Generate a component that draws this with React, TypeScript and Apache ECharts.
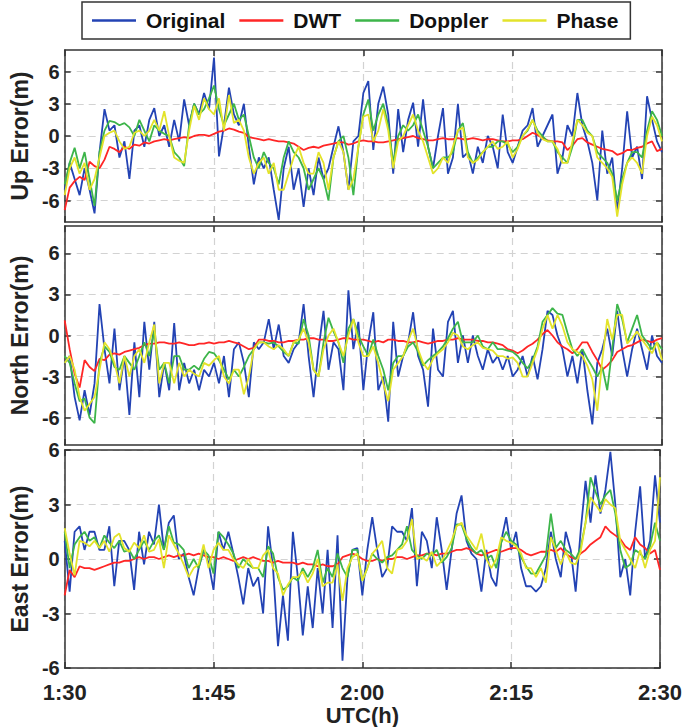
import React, { useEffect, useRef } from "react";
import * as echarts from "echarts";

// time axis: minutes after 1:30 UTC, sampled every half minute
const T_START = 0;
const T_STEP = 0.5;
const N_POINTS = 121;
const X_TICK_LABELS = ["1:30", "1:45", "2:00", "2:15", "2:30"];
const Y_TICKS = [-6, -3, 0, 3, 6];

const SERIES_NAMES = ["Original", "DWT", "Doppler", "Phase"];
const SERIES_COLORS = ["#2343B4", "#FF2626", "#3DB54A", "#E3E32B"];
const PANEL_NAMES = ["Up Error(m)", "North Error(m)", "East Error(m)"];

// ---- Up ----
const UP_ORIGINAL = [
  -5, -2.5, -4, -5.5, -3, -5, -7.2, -1.5, 2.5, 0.5, 1, -2, -0.5, -4, 0.5, 1, -1, 1.5, 2.6, 0,
  1, -1, 1.5, -0.5, 3.4, 1, 3, 2, 4, 2.5, 7.3, -1.9, 1, 4.5, 2, 1, 3, -1, -4.5, -2,
  -3, -2, -5, -7.8, -3, -1, -5, -3, -6.6, -3, -5.5, -2, -4, -3, -1, 0.9, -1.5, -5, -0.5, 0,
  4, 5.1, -1.3, 3, 4.6, 2, -3.5, 2.5, -1.5, 1.5, 3.1, -1, 3.4, -1, -3, 0, 2.6, -3.5, -2, 3,
  -2, -1.5, -3.5, -1, -2.5, 0, -1, -3, 2, -1.5, -2.5, -1, 0.5, 1, 2.6, -1, 0, 1, 2, -3.5,
  -2, 1, 0, 4, 1, -0.5, -2.5, -6, 0.5, -3.5, -2, -7, -3, 2.3, -2, -1, -4, 3.7, 1.5, -0.5, -1.5,
];
const UP_DWT = [
  -6.9, -4.8, -4.2, -3.8, -4.1, -2.4, -2.8, -3.0, -2.2, -1.0, -1.2, -1.5, -1.0, -1.2, -0.8, -0.9, -0.6, -0.7, -0.5, -0.4,
  -0.3, -0.4, -0.3, -0.2, -0.1, -0.2, 0.0, 0.1, 0.1, 0.0, 0.2, 0.4, 0.5, 0.7, 0.6, 0.4, 0.3, -0.1, -0.2, -0.3,
  -0.4, -0.3, -0.4, -0.5, -0.5, -0.6, -0.7, -1.0, -1.3, -1.1, -1.0, -1.1, -0.9, -0.8, -0.7, -0.6, -0.6, -0.8, -0.7, -0.5,
  -0.4, -0.5, -0.5, -0.6, -0.6, -0.5, -0.4, -0.3, -0.2, -0.1, 0.0, -0.2, -0.3, -0.4, -0.4, -0.3, -0.2, -0.3, -0.3, -0.2,
  -0.3, -0.3, -0.2, -0.3, -0.4, -0.3, -0.3, -0.4, -0.5, -0.5, -0.4, -0.4, -0.3, 0.0, 0.3, 0.1, -0.2, -0.4, -0.5, -0.5,
  -0.6, -1.3, -0.9, -0.3, -0.2, -0.6, -0.8, -1.0, -1.2, -1.3, -1.4, -1.75, -1.6, -1.3, -1.3, -1.1, -1.0, -0.7, -0.5, -1.4, -1.2,
];
const UP_DOPPLER = [
  -4.5, -2.5, -1.1, -3, -1.5, -4, -6.5, -1.5, 0.5, 1.4, 1.3, 1.0, 1.2, 0.8, 0, 1.5, 0.5, -0.5, 1, 0.5,
  0.2, 0, -1.5, -2, -2.8, 1, 3, 2, 2.5, 3.5, 4.7, 2.5, 1, 2, 3, 1.5, 2, 0, -2, -3,
  -1.5, -2.5, -3, -4.5, -2, -0.5, -1.5, -2, -3, -5, -4, -3, -4, -6, -2, -0.5, 0, -2, -5.5, -1,
  2, 3.4, 0.5, 2, 3, 1, -2.5, 0, 1, 0.5, 1, 2, 0.5, -1, -3, -2.5, -2, -2, -1.5, 0.5,
  1.2, -1.5, -2.5, -2, -1.5, -1, -1, -0.5, -0.5, -0.8, -1.5, -1, 0, 0.5, 1.5, 0.5, 0, -0.5, -0.5, -1.5,
  -2, -2.5, -1, 1.5, 1.5, 0.5, 0, -1.5, -2, -2.5, -3.5, -6, -4, -2.5, -1.5, -1.5, -2, 0.5, 2.3, 1.5, 0,
];
const UP_PHASE = [
  -5.5, -3, -2, -3.5, -2.5, -5, -4, -2, 0, 0.3, 0.5, -0.5, -1.2, -1, 0.3, 0.5, 0, 0.5, 1.5, 0.5,
  2.3, 0, -2, -2.3, -2.5, 0.5, 2.8, 1.5, 3.5, 2.5, 2, 3.5, 0.5, 3.8, 1.2, 1.5, 0.5, -2, -3.5, -2.5,
  -2, -3.5, -2.5, -5, -5, -3.5, -2, -1, -2.5, -3.5, -3.5, -1.5, -2.5, -5, -2, -0.5, -1.5, -5, -4, -1,
  1.8, 2, -0.5, 0.5, 2.5, 0.5, -3, -0.5, 0, 1, 2, 0.5, -0.5, -2, -3.5, -3, -2, -2.5, -1, 0.5,
  0.8, -2, -2.5, -2.2, -1.5, -1, -0.5, -1.2, -1, -0.5, -2, -1.2, 0, 0.6, 1.5, 0.3, -0.3, -0.5, -0.5, -1.2,
  -2.5, -2.5, -0.5, 1.5, 1, 0.3, 0, -2, -2.5, -3, -3.8, -7.5, -4.5, -2.5, -2, -2.5, -3.5, 0, 1.8, 1, -0.5,
];

// ---- North ----
const NORTH_ORIGINAL = [
  -2, -1.5, -4.5, -6.2, -4, -5.8, -3.5, 2.3, -1, -3.5, 0.5, -4, -1.5, -5.8, -0.5, -4.5, 1, -2.5, 1, -4.5,
  -2, -4, 0.9, -4, -2, -3.5, -2.5, -4, -2.5, -3, -2, -3.5, -1.5, -4.5, -1, -0.5, -2, -4.5, -0.5, -1,
  -0.5, 1.2, -1, 0.8, -1.5, -2, -1, -0.5, 2.3, -1.5, -4.5, -1, 1.8, -2.5, -0.5, -1, -4, 3.3, -1, 1,
  -4, -0.5, 1.7, -4, -3, -6.3, 1, -3, -1.5, -0.5, 1.7, -1.5, -2.5, -5.2, 0.5, -2.5, -3, 1, 1.8, -2,
  0, -2, 0, -1.5, -2.5, -1, -2, -1.5, -2.5, -1.5, -3, -2.5, -1.5, -3, -1.5, -3.2, -1, 1.8, 1.5, 0,
  -1, -3, -1.5, -3.5, -1, -4, -6.5, -2, -1, 0.5, -1.5, 1.8, -1, -3, -1, 0.5, -1, -2.5, 0, -1.5, -2,
];
const NORTH_DWT = [
  1.1, -1.0, -2.8, -3.8, -1.8, -2.3, -2.6, -1.7, -1.8, -1.4, -1.3, -1.4, -1.2, -1.1, -1.0, -0.9, -0.7, -0.6, -0.6, -0.5,
  -0.5, -0.6, -0.6, -0.5, -0.6, -0.7, -0.7, -0.6, -0.6, -0.5, -0.6, -0.5, -0.5, -0.4, -0.5, -0.6, -0.8, -1.0, -0.9, -0.3,
  -0.3, -0.4, -0.4, -0.5, -0.5, -0.4, -0.4, -0.3, -0.3, -0.2, -0.2, -0.3, -0.3, -0.4, -0.4, -0.3, -0.2, -0.2, -0.3, -0.3,
  -0.3, -0.4, -0.5, -0.4, -0.5, -0.3, -0.3, -0.4, -0.4, -0.5, -0.5, -0.4, -0.5, -0.6, -0.5, -0.4, -0.4, -0.3, -0.3, -0.2,
  -0.3, -0.3, -0.3, -0.4, -0.4, -0.5, -0.5, -0.6, -0.7, -1.0, -1.1, -1.3, -1.1, -0.8, -0.6, -0.3, 0.1, 0.4, 0.0, -0.5,
  -0.8, -1.0, -1.3, -1.0, -0.5, -0.5, -1.2, -1.8, -2.5, -2.2, -1.8, -1.2, -1.0, -0.8, -0.7, -0.5, -0.3, -0.4, -0.5, -0.3, -0.2,
];
const NORTH_DOPPLER = [
  -1.5, -2, -3.5, -4.8, -4.6, -6, -6.4, -2, -0.8, -1.2, -2.3, -2.5, -1.5, -2, -2.5, -1.5, -0.5, -1.5, 0.3, -2.5,
  -2, -3.5, -1.5, -1.5, -2.5, -2.5, -2.2, -2.5, -1.7, -1.2, -1.3, -1.8, -2.5, -3.2, -2.5, -3, -2.3, -1.5, -1, -0.5,
  -0.5, -0.6, -0.5, -0.8, -1.2, -1.5, -0.5, -0.6, 1.2, 0, -2.5, -3, -0.5, 1.3, 0.3, -0.5, -2, 0.5, 1.2, 0,
  -0.8, -1.5, -0.3, -1.5, -2.5, -4, -2, -1.5, -1.5, -0.8, -0.5, -1.2, -2.2, -1.8, -1.5, -1.2, -0.8, -0.2, 0.5, 1,
  -0.5, -0.5, -0.5, 0, -0.8, -1, -0.5, -1, -1, -1.1, -1.2, -1.5, -2, -2.4, -1.8, -0.8, 1, 1.5, 2, 1.6,
  1.5, 0.2, -1, -1.5, -1, -1.7, -2.3, -3, -2.3, -4, -1, 2.3, 1.2, -0.5, 0.5, 1.5, 0, -0.5, -1, -0.5, -1,
];
const NORTH_PHASE = [
  -2, -1.5, -2.5, -4.5, -5.5, -5, -4.5, -2.5, -0.5, -1, -2, -3.5, -1.5, -3, -1.5, -1, -2, -0.5, 0.8, -3.5,
  -2, -2, -3.5, -2, -3, -2.5, -2.8, -3, -2, -2.2, -1.8, -1.5, -3, -3.5, -2.5, -2.5, -4.3, -3, -1, -0.5,
  -0.5, -0.8, -1, -0.7, -1, -1.5, -0.5, -0.3, 0.5, -0.5, -2.5, -3, -1, 0, 0.5, -0.5, -1.5, 0, 1.2, -0.5,
  -1.5, -1.5, -0.8, -2, -3.5, -4.8, -2.5, -2, -1.5, -0.4, 0.5, -1, -2, -2.5, -1.7, -1.3, -1, -0.5, 0.2, 0,
  -0.8, -1, -0.7, -0.5, -0.9, -1, -1.1, -1.5, -1.5, -1.7, -1.6, -2, -3, -3, -2, -1, 0.5, 1.5, 0.5, 1.5,
  0.7, -0.5, -1, -1.2, -1.5, -2.2, -3.2, -5.5, -1.8, 1.2, -0.3, 1.5, 1.5, -0.6, -0.2, 0.3, -0.3, -0.8, -1.3, -0.5, -1.8,
];

// ---- East ----
const EAST_ORIGINAL = [
  1, -1.8, 1.5, 1.8, 0.5, 1.5, 1.5, 0.5, 0.5, 1.8, -1.5, 1, 1, 0.5, -1.7, 1.5, -0.3, 1.5, 0.8, 3,
  0.5, 2, 2.4, 0, 0.3, -1, -2, -0.5, 0.5, -0.2, -1.7, 1.5, 0.5, 1.5, 0.3, -1, -2.5, -0.5, -1.5, -1,
  -3, 1.8, -0.5, -4.8, -2, -4.5, 1.5, -1, -4.2, -1.5, -3.8, -0.5, -3, 0.5, -3.8, 1.3, -5.6, -1, 0.5, 0.6,
  -2, 0.5, 2.3, 0.5, -1, -0.5, 1.8, 1.5, 1.5, 1, 2.8, -1.5, 1.5, 1, -0.5, 2.3, 0.5, -1.7, 0.5, 2.5,
  3.5, 1, 0.3, 0, -1.8, 0.5, -1, -1.5, 1, 2.3, 0.5, 1.5, -0.5, -1.5, -1.5, -1.8, -1.5, -0.5, 1.5, 0,
  -1, 1.5, 0.5, -1.8, 1.5, 4.3, 2, 4.6, 2.5, 3.8, 5.9, 3, -1, 0, -2, 1.5, 4, 0, 1, 4.6, 2,
];
const EAST_DWT = [
  -2, -0.6, -1.0, -0.4, -0.5, -0.5, -0.6, -0.5, -0.4, -0.3, -0.2, -0.2, -0.1, -0.1, 0, 0.1, 0.0, 0.1, 0.1, 0.0,
  0.1, 0.2, 0.1, 0.2, 0.2, 0.3, 0.2, 0.3, 0.2, 0.1, 0.1, 0.0, 0.1, 0.0, -0.1, 0.0, 0.1, 0.0, 0.1, 0.0,
  -0.1, -0.1, -0.2, -0.1, -0.2, -0.2, -0.2, -0.3, -0.2, -0.3, -0.3, -0.4, -0.3, -0.4, -0.4, -0.3, 0.1, 0.2, 0.3, 0.2,
  0.0, -0.1, -0.1, 0.0, -0.1, 0.0, 0.0, 0.1, 0.1, 0.0, 0.1, 0.2, 0.2, 0.3, 0.3, 0.2, 0.3, 0.3, 0.4, 0.5,
  0.5, 0.6, 0.5, 0.3, 0.2, 0.3, 0.4, 0.5, 0.4, 0.5, 0.6, 0.6, 0.5, 0.3, 0.2, 0.3, 0.4, 0.4, 0.5, 0.4,
  0.6, 0.3, 0.1, 0.0, 0.3, 0.5, 0.8, 1.0, 1.2, 1.8, 1.5, 1.3, 1.1, 0.7, 0.5, 1.2, 0.8, 0.6, 0.3, 0.5, -0.6,
];
const EAST_DOPPLER = [
  1.5, -0.5, 0.8, 1.2, 1.5, 1, 1.2, 0.6, 1.3, 0.9, 0.6, 1, 0.4, 0.5, 0, 0.5, 1, 0.5, 1, 1.3,
  0.5, 1.8, 0.9, 0.8, 0.5, -0.5, 0, -0.5, 0.5, 0.2, -0.8, 1.5, 1.2, 0.8, 0.3, -0.5, 0, -0.3, -0.5, -0.5,
  -1, 0.7, 0.3, -1, -1.7, -1.5, -1, -1.2, -0.5, -1, -0.5, 0.5, -1.3, -0.5, -1, 0.3, -0.5, -1, 0.5, 0.5,
  -1.2, -0.5, 0.3, 0, -0.2, 0.1, 0.2, 0.5, 0.8, 1.8, 0.5, 0.2, 0, 0.3, 0.2, 0.5, -0.2, 0.1, 0.6, 1.9,
  1.9, 1.1, 0.6, 0.3, 0.5, 0, 0.2, -0.5, 0.9, 1.5, 1, 0.8, 0.1, -0.4, -0.8, -0.8, -0.3, 0.2, 2.5, 0.6,
  1, 0.5, 0.3, 0, 0.6, 2, 4.5, 3.7, 3, 3.5, 3.8, 2.5, 0.5, -0.5, -0.3, 0.5, 0.3, 0, 0.7, 2, 1,
];
const EAST_PHASE = [
  1.7, 0.3, -0.9, 1, 0.9, 0.7, 1, 0.6, 1, 0.4, 1.2, 1.4, 0.6, 0.4, 0.9, 0.6, 1.3, 0.4, 0.5, 1.1,
  -0.5, 1.3, 0.8, 0.3, -0.3, -1, -0.5, -0.3, 0.8, -0.5, 0.5, 0.9, 0.5, 0.5, 0, -0.3, -0.5, 0, -0.5, -0.5,
  0.2, 0.5, -0.5, -0.8, -2, -1.4, -1, -1, -0.7, -1.3, -0.8, 0, -1.5, -1.3, -1.3, -0.3, -2.3, -0.5, 0.1, 0.3,
  -1.2, -0.5, 0.3, 0.6, 1, -0.5, -0.8, 0.5, 0.6, 1, 2.2, 0, 0.1, -0.1, 0.4, -0.4, -0.1, 0.4, 1, 1.8,
  2, 1.3, 0.9, 0.5, 1.4, 0, -0.5, 0, 1.2, 1, 0.9, 0.7, 0.3, -0.5, -0.5, -1, -0.5, -1.3, 1.2, 0.5,
  -0.3, 0.4, -0.2, -0.3, 0.4, 2, 3.4, 3, 2.6, 3.3, 3, 2.8, 1, 0.5, 0, -0.5, 0.5, -0.5, 0.5, 1, 4.5,
];

const PANELS = [
  { name: PANEL_NAMES[0], min: -8, max: 8, data: [UP_ORIGINAL, UP_DWT, UP_DOPPLER, UP_PHASE] },
  { name: PANEL_NAMES[1], min: -8, max: 8, data: [NORTH_ORIGINAL, NORTH_DWT, NORTH_DOPPLER, NORTH_PHASE] },
  { name: PANEL_NAMES[2], min: -6, max: 6, data: [EAST_ORIGINAL, EAST_DWT, EAST_DOPPLER, EAST_PHASE] },
];

const GRIDS = [
  { left: 53, top: 50, width: 609, height: 172 },
  { left: 53, top: 226, width: 609, height: 219 },
  { left: 53, top: 450, width: 609, height: 221 },
];

const FONT = "'Liberation Sans', Arial, Helvetica, sans-serif";
const AXIS_COLOR = "#333333";
const GRID_LINE = { color: "#d2d2d2", type: [7, 5] as any, width: 1.2 };

function buildOption() {
  const times = Array.from({ length: N_POINTS }, (_, i) => T_START + i * T_STEP);
  const xAxis: any[] = [];
  const yAxis: any[] = [];
  const series: any[] = [];

  PANELS.forEach((p, gi) => {
    const isLast = gi === PANELS.length - 1;
    const axisLine = { show: true, onZero: false, lineStyle: { color: AXIS_COLOR, width: 1.5 } };
    const tick = { show: true, inside: true, length: 6, lineStyle: { color: AXIS_COLOR, width: 1.5 } };
    xAxis.push({
      type: "value",
      gridIndex: gi,
      min: 0,
      max: 60,
      interval: 15,
      position: "bottom",
      axisLine,
      axisTick: tick,
      splitLine: { show: true, lineStyle: GRID_LINE },
      axisLabel: {
        show: isLast,
        margin: 15,
        color: "#222",
        fontFamily: FONT,
        fontWeight: "bold",
        fontSize: 22,
        lineHeight: 18,
        formatter: (v: number) => X_TICK_LABELS[Math.round(v / 15)] ?? "",
      },
      name: isLast ? "UTC(h)" : "",
      nameLocation: "middle",
      nameGap: 36,
      nameTextStyle: { color: "#222", fontFamily: FONT, fontWeight: "bold", fontSize: 22 },
    });
    xAxis.push({
      type: "value",
      gridIndex: gi,
      min: 0,
      max: 60,
      interval: 15,
      position: "top",
      axisLine,
      axisTick: tick,
      splitLine: { show: false },
      axisLabel: { show: false },
    });
    const custom = p.min === -8;
    const yLabel: any = {
      show: true,
      margin: 5,
      color: "#222",
      fontFamily: FONT,
      fontWeight: "bold",
      fontSize: 20,
      lineHeight: 14,
    };
    const yTick: any = { ...tick };
    const base: any = { type: "value", gridIndex: gi, min: p.min, max: p.max };
    if (custom) {
      yLabel.customValues = Y_TICKS;
      yTick.customValues = Y_TICKS;
    } else {
      base.interval = 3;
    }
    yAxis.push({
      ...base,
      position: "left",
      axisLine,
      axisTick: yTick,
      axisLabel: yLabel,
      splitLine: { show: true, lineStyle: GRID_LINE },
      name: p.name,
      nameLocation: "middle",
      nameGap: 30,
      nameTextStyle: { color: "#222", fontFamily: FONT, fontWeight: "bold", fontSize: 23 },
    });
    yAxis.push({
      ...base,
      position: "right",
      axisLine,
      axisTick: yTick,
      axisLabel: { show: false, customValues: custom ? Y_TICKS : undefined },
      splitLine: { show: false },
    });

    p.data.forEach((arr, si) => {
      series.push({
        type: "line",
        name: SERIES_NAMES[si],
        xAxisIndex: gi * 2,
        yAxisIndex: gi * 2,
        data: times.map((t, i) => [t, arr[i]]),
        symbol: "none",
        showSymbol: false,
        lineStyle: { color: SERIES_COLORS[si], width: 1.8 },
        itemStyle: { color: SERIES_COLORS[si] },
        emphasis: { disabled: true },
        clip: true,
        z: 2 + si,
      });
    });
  });

  return {
    animation: false,
    backgroundColor: "#ffffff",
    grid: GRIDS.map((g) => ({ ...g, containLabel: false })),
    legend: {
      data: SERIES_NAMES.map((n) => ({ name: n, icon: "rect" })),
      left: 82,
      top: 2,
      orient: "horizontal",
      padding: [8, 12, 8, 10],
      itemGap: 14,
      itemWidth: 44,
      itemHeight: 2.5,
      borderColor: "#333",
      borderWidth: 1.5,
      backgroundColor: "#fff",
      selectedMode: false,
      textStyle: {
        color: "#111",
        fontFamily: FONT,
        fontWeight: "bold",
        fontSize: 21,
        padding: [0, 0, 0, 5],
      },
    },
    xAxis,
    yAxis,
    series,
  };
}

export default function App() {
  const ref = useRef<HTMLDivElement>(null);
  useEffect(() => {
    if (!ref.current) return;
    const chart = echarts.init(ref.current, undefined, { renderer: "svg" });
    chart.setOption(buildOption() as any);
    return () => chart.dispose();
  }, []);
  return (
    <div
      ref={ref}
      style={{ position: "fixed", left: 0, top: 0, width: 685, height: 727, background: "#fff" }}
    />
  );
}
